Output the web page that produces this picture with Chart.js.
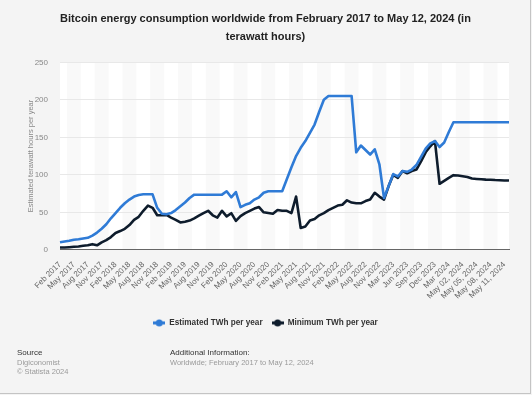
<!DOCTYPE html>
<html>
<head>
<meta charset="utf-8">
<script src="https://cdn.jsdelivr.net/npm/chart.js@4"></script>
<style>
  html, body { margin: 0; padding: 0; background: #f4f4f4; }
  #wrap { position: relative; width: 532px; height: 395px; font-family: 'Liberation Sans', Arial, sans-serif; }
  #wrap canvas { position: absolute; left: 0; top: 0; }
  .foot { position: absolute; font-size: 7.5px; color: #9a9a9a; line-height: 9.5px; white-space: nowrap; }
  .foot b { font-weight: normal; color: #333; font-size: 8px; }
  #frame { position: absolute; left: 0; top: 0; width: 530px; height: 393px; border-right: 1.5px solid #c4c4c4; border-bottom: 1.5px solid #c4c4c4; pointer-events: none; }
</style>
</head>
<body>
<div id="wrap">
  <canvas id="chart-btc" width="532" height="395"></canvas>
  <div class="foot" style="left:17px; top:348px;"><b>Source</b><br>Digiconomist<br>© Statista 2024</div>
  <div class="foot" style="left:170px; top:348px;"><b>Additional Information:</b><br>Worldwide; February 2017 to May 12, 2024</div>
  <div id="frame"></div>
</div>
<script>
const fechas = [
    'Feb 2017', 'Mar 2017', 'Apr 2017', 'May 2017', 'Jun 2017', 'Jul 2017', 'Aug 2017', 'Sep 2017', 'Oct 2017', 'Nov 2017', 'Dec 2017',
    'Jan 2018', 'Feb 2018', 'Mar 2018', 'Apr 2018', 'May 2018', 'Jun 2018', 'Jul 2018', 'Aug 2018', 'Sep 2018', 'Oct 2018', 'Nov 2018', 'Dec 2018',
    'Jan 2019', 'Feb 2019', 'Mar 2019', 'Apr 2019', 'May 2019', 'Jun 2019', 'Jul 2019', 'Aug 2019', 'Sep 2019', 'Oct 2019', 'Nov 2019', 'Dec 2019',
    'Jan 2020', 'Feb 2020', 'Mar 2020', 'Apr 2020', 'May 2020', 'Jun 2020', 'Jul 2020', 'Aug 2020', 'Sep 2020', 'Oct 2020', 'Nov 2020', 'Dec 2020',
    'Jan 2021', 'Feb 2021', 'Mar 2021', 'Apr 2021', 'May 2021', 'Jun 2021', 'Jul 2021', 'Aug 2021', 'Sep 2021', 'Oct 2021', 'Nov 2021', 'Dec 2021',
    'Jan 2022', 'Feb 2022', 'Mar 2022', 'Apr 2022', 'May 2022', 'Jun 2022', 'Jul 2022', 'Aug 2022', 'Sep 2022', 'Oct 2022', 'Nov 2022',
    'Jan 2023', 'Feb 2023', 'Mar 2023', 'Apr 2023', 'May 2023', 'Jun 2023', 'Jul 2023', 'Aug 2023', 'Sep 2023', 'Oct 2023', 'Nov 2023', 'Dec 2023',
    'Jan 2024', 'Feb 2024', 'Mar 2024', 'Apr 2024',
    'May 01, 2024', 'May 02, 2024', 'May 03, 2024', 'May 04, 2024', 'May 05, 2024', 'May 06, 2024',
    'May 07, 2024', 'May 08, 2024', 'May 09, 2024', 'May 10, 2024', 'May 11, 2024', 'May 12, 2024'
];

// TWh por año (estimado)
const estimado = [
    10, 11, 12, 13.5, 14, 15, 16, 19, 23, 28,
    34, 42, 49, 56, 62, 67, 71, 73, 74, 74,
    74, 56, 48, 47.5, 49, 53, 58, 63, 69, 73.5,
    73.5, 73.5, 73.5, 73.5, 73.5, 73.5, 78, 70, 77, 57,
    60, 62, 67, 70, 76, 78, 78, 78, 78, 94,
    110, 125, 136, 145, 156, 167, 184, 200, 205, 205,
    205, 205, 205, 205, 130, 139, 133, 127, 134, 114,
    69, 85, 101, 98, 105, 104, 107, 113, 124, 135,
    142, 145, 137, 143, 157, 170, 170, 170, 170, 170,
    170, 170, 170, 170, 170, 170, 170, 170
];

// TWh por año (minimo)
const minimo = [
    3, 3, 3.5, 4, 4.5, 5.5, 6, 7.5, 6, 10,
    13, 17, 22.5, 25, 28, 33, 40, 44, 52, 59,
    56, 46, 46, 46.5, 43, 40, 36.5, 37.5, 39, 42,
    45.5, 49, 52, 46, 43, 52, 44.5, 48.8, 38.5, 45,
    49, 52, 55, 57, 50, 49, 48, 53, 52, 52,
    49, 71, 29, 31, 39, 41, 46, 49, 53, 56,
    59, 60, 66, 63, 62, 62, 65, 67, 76, 71,
    67, 85, 100, 96, 105, 102, 105, 107, 118, 130,
    138, 145, 88, 92, 96, 99.5, 99, 98, 97, 95,
    94.5, 94, 93.6, 93.5, 93, 92.7, 92.5, 92.3
];

const ticksY = [0, 50, 100, 150, 200, 250];
const colorEstimado = '#2f7bd6';
const colorMinimo = '#0e1c2c';
const fuente = "'Liberation Sans', Arial, sans-serif";

// marcador de la leyenda: linea con un punto
const crearMarcador = (color) => {
    const c = document.createElement('canvas');
    c.width = 12;
    c.height = 8;
    const ctx = c.getContext('2d');
    ctx.strokeStyle = color;
    ctx.lineWidth = 3;
    ctx.beginPath();
    ctx.moveTo(0, 4);
    ctx.lineTo(12, 4);
    ctx.stroke();
    ctx.fillStyle = color;
    ctx.beginPath();
    ctx.arc(6, 4, 3.5, 0, Math.PI * 2);
    ctx.fill();
    return c;
};

// franjas verticales del fondo
const franjas = {
    id: 'franjas',
    beforeDraw(chart) {
        const {ctx, chartArea, scales} = chart;
        ctx.save();
        ctx.fillStyle = '#ffffff';
        ctx.fillRect(chartArea.left, chartArea.top, chartArea.right - chartArea.left, chartArea.bottom - chartArea.top);
        ctx.fillStyle = '#f9f9f9';
        for (let k = 0; k * 3 < fechas.length; k++) {
            if (k % 2 === 0) continue;
            const x1 = Math.max(chartArea.left, scales.x.getPixelForValue(k * 3 - 1.5));
            const x2 = Math.min(chartArea.right, scales.x.getPixelForValue(k * 3 + 1.5));
            ctx.fillRect(x1, chartArea.top, x2 - x1, chartArea.bottom - chartArea.top);
        }
        ctx.restore();
    }
};

const config = {
    type: 'line',
    data: {
        labels: fechas,
        datasets: [{
            label: 'Estimated TWh per year',
            data: estimado,
            borderColor: colorEstimado,
            backgroundColor: colorEstimado,
            borderWidth: 2.6
        }, {
            label: 'Minimum TWh per year',
            data: minimo,
            borderColor: colorMinimo,
            backgroundColor: colorMinimo,
            borderWidth: 2.6
        }]
    },
    options: {
        responsive: false,
        animation: false,
        elements: {
            point: { radius: 0 },
            line: { tension: 0, borderJoinStyle: 'round' }
        },
        layout: { padding: { left: 22, right: 23, top: 0, bottom: 58 } },
        plugins: {
            title: {
                display: true,
                text: ['Bitcoin energy consumption worldwide from February 2017 to May 12, 2024 (in', 'terawatt hours)'],
                color: '#222',
                font: { family: fuente, size: 11, weight: 'bold', lineHeight: 1.65 },
                padding: { top: 10, bottom: 16 }
            },
            legend: {
                position: 'bottom',
                labels: {
                    usePointStyle: true,
                    pointStyleWidth: 12,
                    boxHeight: 8,
                    padding: 9,
                    color: '#333',
                    font: { family: fuente, size: 8.2, weight: 'bold' },
                    generateLabels: (chart) => chart.data.datasets.map((ds, i) => ({
                        text: ds.label,
                        pointStyle: crearMarcador(ds.borderColor),
                        fillStyle: ds.borderColor,
                        strokeStyle: ds.borderColor,
                        lineWidth: 0,
                        fontColor: '#333',
                        datasetIndex: i
                    }))
                }
            },
            tooltip: { enabled: false }
        },
        scales: {
            x: {
                grid: { display: false },
                border: { display: true, color: '#666', width: 1 },
                ticks: {
                    autoSkip: false,
                    minRotation: 45,
                    maxRotation: 45,
                    padding: 2,
                    color: '#666',
                    font: { family: fuente, size: 8 },
                    callback: (v, i) => (i % 3 === 0 ? fechas[i] : null)
                },
                afterFit: (scale) => { scale.height = 60; }
            },
            y: {
                min: ticksY[0],
                max: ticksY[ticksY.length - 1],
                afterBuildTicks: (scale) => { scale.ticks = ticksY.map((v) => ({ value: v })); },
                grid: { color: '#e8e8e8', drawTicks: false },
                border: { display: false },
                ticks: {
                    padding: 12,
                    color: '#888',
                    font: { family: fuente, size: 8 }
                },
                title: {
                    display: true,
                    text: 'Estimated terawatt hours per year',
                    color: '#888',
                    font: { family: fuente, size: 7.5 }
                },
                afterFit: (scale) => { scale.width = 38; }
            }
        }
    },
    plugins: [franjas]
};

const chartDom = document.querySelector('#chart-btc');
const chartInstance = new Chart(chartDom, config);
</script>
</body>
</html>
